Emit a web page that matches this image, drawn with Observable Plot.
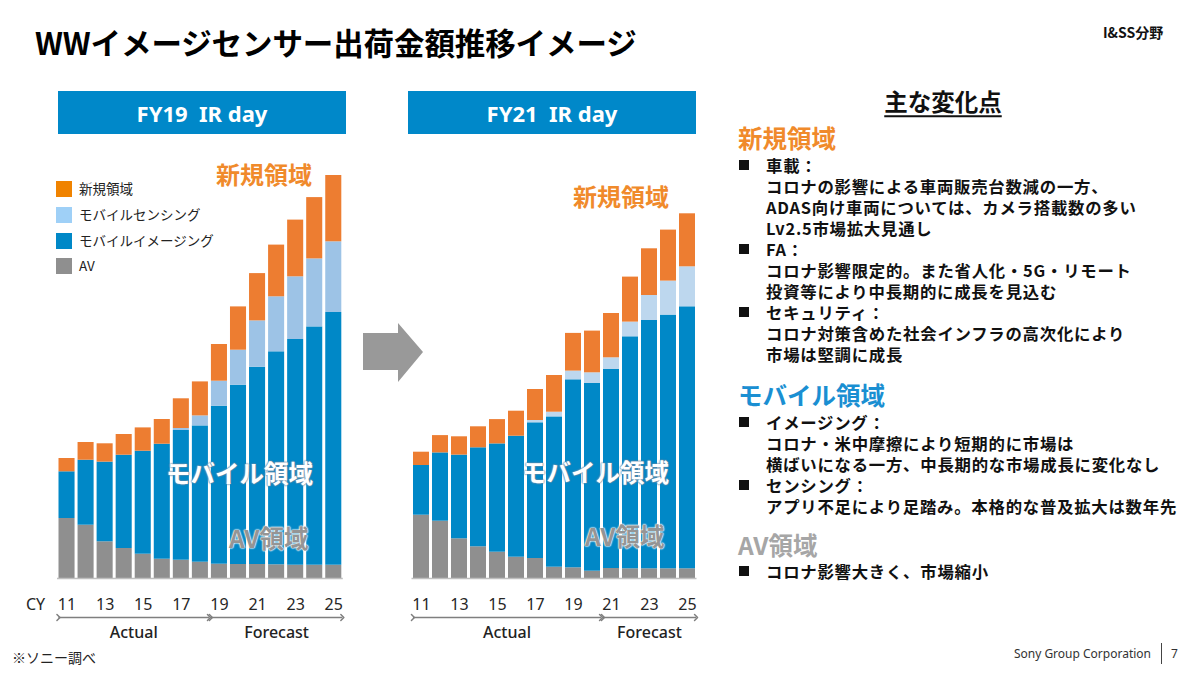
<!DOCTYPE html>
<html>
<head>
<meta charset="utf-8">
<script src="https://cdn.jsdelivr.net/npm/d3@7"></script>
<script src="https://cdn.jsdelivr.net/npm/@observablehq/plot@0.6"></script>
<style>
  html, body { margin: 0; padding: 0; }
  body { width: 1200px; height: 674px; position: relative; background: #fff; overflow: hidden;
         font-family: "Noto Sans CJK JP", "Noto Sans", sans-serif; color: #111; }
  .abs { position: absolute; white-space: nowrap; line-height: 1; }
  .mid { transform: translateY(-50%); }
  .box { position: absolute; background: #0088C9; color: #fff; font-family: "Noto Sans", "Open Sans", sans-serif;
         font-weight: 700; font-size: 22px; display: flex; align-items: center; justify-content: center; white-space: pre; line-height: 1; }
  .plotwrap { position: absolute; top: 140px; }
  .legend-row { position: absolute; left: 56px; display: flex; align-items: center; font-size: 13.5px; color: #222; line-height: 1; }
  .legend-row span.sw { display: inline-block; width: 16px; height: 16px; margin-right: 7px; }
  .panel-block { position: absolute; left: 766px; font-size: 16.4px; letter-spacing: 0.75px; font-weight: 700; white-space: pre;
                 color: #111; line-height: 21px; }
  .bullet { position: absolute; left: 739px; width: 10px; height: 10px; background: #111; transform: translateY(-50%); }
  .head { position: absolute; left: 738px; font-size: 24.5px; font-weight: 700; transform: translateY(-50%); white-space: nowrap; line-height: 1; }
</style>
</head>
<body>
<script>
// ---------------- data ----------------
const years = [2011, 2012, 2013, 2014, 2015, 2016, 2017, 2018, 2019, 2020, 2021, 2022, 2023, 2024, 2025];
const tickYears = [2011, 2013, 2015, 2017, 2019, 2021, 2023, 2025];
// stack order: bottom -> top
const seriesNames = ["AV", "モバイルイメージング", "モバイルセンシング", "新規領域"];

// FY19 IR day (relative shipment value)
const fy19_av      = [60.0, 53.3, 36.7, 30.0, 24.3, 19.3, 18.3, 16.3, 14.3, 14.0, 14.0, 13.7, 13.3, 13.3, 13.3];
const fy19_imaging = [46.7, 65.0, 79.7, 93.3, 103.0, 115.0, 129.7, 136.3, 158.0, 179.3, 197.3, 213.0, 225.7, 238.3, 252.7];
const fy19_sensing = [0, 0, 0, 0, 0, 0, 2.0, 10.0, 25.0, 35.0, 46.3, 55.0, 62.7, 68.0, 70.7];
const fy19_new     = [13.3, 17.7, 18.3, 20.7, 23.3, 24.7, 29.7, 34.0, 36.7, 43.3, 47.3, 51.7, 56.7, 61.3, 66.3];

// FY21 IR day
const fy21_av      = [63.3, 57.3, 39.7, 31.7, 26.3, 21.3, 20.0, 11.3, 10.7, 7.3, 10.0, 9.7, 9.7, 9.7, 9.7];
const fy21_imaging = [49.7, 68.3, 83.7, 99.0, 108.3, 121.0, 135.7, 150.3, 188.0, 187.7, 199.0, 232.0, 248.3, 253.7, 262.0];
const fy21_sensing = [0, 0, 0, 0, 0, 0, 2.3, 4.7, 8.7, 10.7, 11.7, 14.7, 25.0, 34.0, 40.0];
const fy21_new     = [13.3, 17.3, 18.3, 21.0, 24.3, 25.0, 31.0, 36.7, 37.7, 41.7, 44.3, 45.0, 46.7, 51.0, 53.0];

const fy19_spans = [{label: "Actual", from: 2011, to: 2018}, {label: "Forecast", from: 2019, to: 2025}];
const fy21_spans = [{label: "Actual", from: 2011, to: 2020}, {label: "Forecast", from: 2021, to: 2025}];

const fy19_colors = ["#8F8F8F", "#0088C7", "#9DC3E6", "#ED7D31"];
const fy21_colors = ["#8F8F8F", "#0088C7", "#BDD7EE", "#ED7D31"];

// legend (top -> bottom)
const legendNames  = ["新規領域", "モバイルセンシング", "モバイルイメージング", "AV"];
const legendColors = ["#F08300", "#9FD0F7", "#0088C7", "#8F8F8F"];

// ---------------- helpers ----------------
function stackRows(seriesValues) {
  const rows = [];
  years.forEach((yr, i) => {
    let acc = 0;
    seriesNames.forEach((s, k) => {
      const v = seriesValues[k][i];
      if (v > 0) rows.push({year: yr, series: s, y1: acc, y2: acc + v});
      acc += v;
    });
  });
  return rows;
}

function chart(rows, spans, colors, marginLeft, marginRight) {
  return Plot.plot({
    width: 360, height: 510,
    marginTop: 18, marginBottom: 72, marginLeft, marginRight,
    x: {domain: [2010.5, 2025.5], ticks: tickYears, tickFormat: d => String(d).slice(2),
        tickSize: 0, tickPadding: 20, label: null},
    y: {domain: [0, 420], axis: null},
    color: {domain: seriesNames, range: colors},
    style: {fontFamily: "'Noto Sans', 'Open Sans', sans-serif", fontSize: "16px", color: "#262626",
            background: "transparent", overflow: "visible"},
    marks: [
      Plot.rect(rows, {x1: d => d.year - 0.5, x2: d => d.year + 0.5, y1: "y1", y2: "y2",
                       fill: "series", insetLeft: 1.5, insetRight: 1.5}),
      Plot.ruleY([0], {stroke: "#BFBFBF", strokeWidth: 1.5}),
      Plot.link(spans, {x1: d => d.from - 0.45, x2: d => d.to + 0.45, y1: 0, y2: 0, dy: 39,
                        stroke: "#7F7F7F", strokeWidth: 1.5, markerStart: "arrow", markerEnd: "arrow"}),
      Plot.text(spans, {x: d => (d.from + d.to) / 2, y: 0, dy: 54, text: "label", fontSize: 16, fill: "#222", fontWeight: 500})
    ]
  });
}

function el(tag, cls, style, text) {
  const e = document.createElement(tag);
  if (cls) e.className = cls;
  if (style) e.setAttribute("style", style);
  if (text != null) e.textContent = text;
  document.body.appendChild(e);
  return e;
}

// ---------------- header ----------------
el("div", "abs mid", "left:35px;top:42px;font-size:30.5px;font-weight:700;letter-spacing:-0.1px;color:#000;", "WWイメージセンサー出荷金額推移イメージ");
el("div", "abs mid", "left:1103px;top:32px;font-size:14px;font-weight:700;color:#111;", "I&SS分野");

el("div", "box", "left:58px;top:91px;width:288px;height:43px;", "FY19  IR day");
el("div", "box", "left:408px;top:91px;width:288px;height:43px;", "FY21  IR day");

// ---------------- charts ----------------
const w1 = el("div", "plotwrap", "left:0px;");
w1.appendChild(chart(stackRows([fy19_av, fy19_imaging, fy19_sensing, fy19_new]), fy19_spans, fy19_colors, 57, 17.2));
const w2 = el("div", "plotwrap", "left:360px;");
w2.appendChild(chart(stackRows([fy21_av, fy21_imaging, fy21_sensing, fy21_new]), fy21_spans, fy21_colors, 51.5, 23.5));

el("div", "abs mid", "left:26px;top:604px;font-size:16px;color:#262626;font-family:'Noto Sans',sans-serif;", "CY");

// legend
const legendTops = [189, 215, 241, 266];
legendNames.forEach((n, i) => {
  const r = el("div", "legend-row", `top:${legendTops[i]}px;transform:translateY(-50%);`);
  const sw = document.createElement("span");
  sw.className = "sw"; sw.style.background = legendColors[i];
  r.appendChild(sw);
  r.appendChild(document.createTextNode(n));
});

// overlay labels
const orangeLbl = "font-size:24px;font-weight:700;color:#F08A2B;text-shadow:0 0 2px #fff,0 0 2px #fff;";
const mobileLbl = "font-size:24.5px;font-weight:700;color:#fff;text-shadow:0 0 1.5px #6C8CA8,0 0 1.5px #6C8CA8,0 0 2px #6C8CA8;";
const avLbl = "font-size:24.5px;font-weight:700;color:#959595;text-shadow:0 0 1.5px #fff,0 0 1.5px #fff,0 0 2px #fff;";
el("div", "abs mid", "left:216px;top:174px;" + orangeLbl, "新規領域");
el("div", "abs mid", "left:573px;top:196px;" + orangeLbl, "新規領域");
el("div", "abs mid", "left:166px;top:473px;" + mobileLbl, "モバイル領域");
el("div", "abs mid", "left:522px;top:472px;" + mobileLbl, "モバイル領域");
el("div", "abs mid", "left:229px;top:538px;" + avLbl, "AV領域");
el("div", "abs mid", "left:585px;top:536px;" + avLbl, "AV領域");

// big arrow between charts
const ns = "http://www.w3.org/2000/svg";
const arr = document.createElementNS(ns, "svg");
arr.setAttribute("width", "70"); arr.setAttribute("height", "70");
arr.setAttribute("style", "position:absolute;left:360px;top:318px;");
const poly = document.createElementNS(ns, "polygon");
poly.setAttribute("points", "3,15 38,15 38,5 63,34 38,64 38,52 3,52");
poly.setAttribute("fill", "#999999");
arr.appendChild(poly);
document.body.appendChild(arr);

// ---------------- right panel ----------------
el("div", "abs", "left:943px;top:102px;transform:translate(-50%,-50%);font-size:23.5px;font-weight:700;text-decoration:underline;text-underline-offset:4px;text-decoration-thickness:1.5px;", "主な変化点");
el("div", "head", "top:138px;color:#F08A2B;", "新規領域");
el("div", "head", "top:395px;color:#1A8FD2;", "モバイル領域");
el("div", "head", "top:545px;color:#A6A6A6;", "AV領域");

// text sections: [first line centre, lines, indices of bullet lines]
const panelSections = [
  [165, ["車載：",
         "コロナの影響による車両販売台数減の一方、",
         "ADAS向け車両については、カメラ搭載数の多い",
         "Lv2.5市場拡大見通し",
         "FA：",
         "コロナ影響限定的。また省人化・5G・リモート",
         "投資等により中長期的に成長を見込む",
         "セキュリティ：",
         "コロナ対策含めた社会インフラの高次化により",
         "市場は堅調に成長"], [0, 4, 7]],
  [422, ["イメージング：",
         "コロナ・米中摩擦により短期的に市場は",
         "横ばいになる一方、中長期的な市場成長に変化なし",
         "センシング：",
         "アプリ不足により足踏み。本格的な普及拡大は数年先"], [0, 3]],
  [571, ["コロナ影響大きく、市場縮小"], [0]]
];
panelSections.forEach(([y0, lines, bullets]) => {
  el("div", "panel-block", `top:${y0 - 10.5}px;`, lines.join("\n"));
  bullets.forEach(k => el("div", "bullet", `top:${y0 + 21 * k}px;`));
});

// ---------------- footer ----------------
el("div", "abs mid", "left:12px;top:657px;font-size:14px;color:#222;", "※ソニー調べ");
el("div", "abs mid", "right:49px;top:654px;font-size:12px;color:#333;font-family:'Noto Sans',sans-serif;", "Sony Group Corporation");
el("div", "abs", "left:1161px;top:643px;width:1px;height:21px;background:#444;");
el("div", "abs mid", "left:1171px;top:654px;font-size:12px;color:#333;font-family:'Noto Sans',sans-serif;", "7");
</script>
</body>
</html>
